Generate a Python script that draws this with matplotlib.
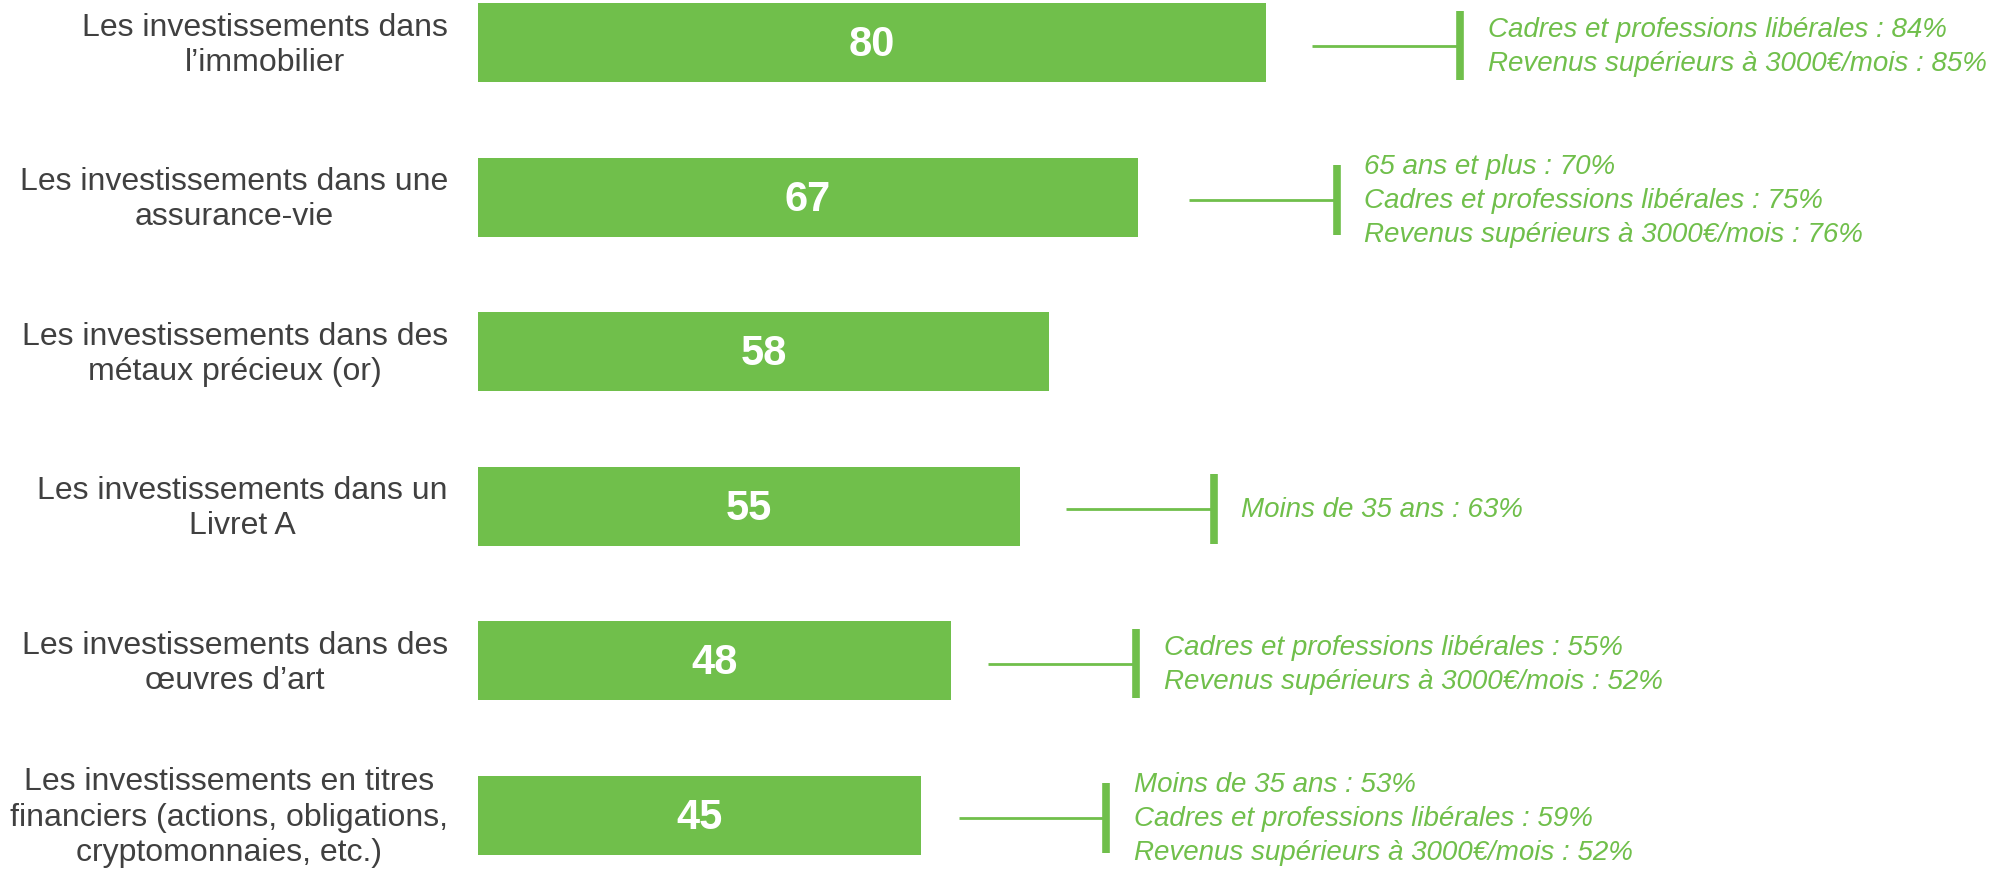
import matplotlib
matplotlib.use("Agg")
import matplotlib.pyplot as plt

categories = [
    "Les investissements dans\nl\u2019immobilier",
    "Les investissements dans une\nassurance-vie",
    "Les investissements dans des\nm\u00e9taux pr\u00e9cieux (or)",
    "Les investissements dans un\nLivret A",
    "Les investissements dans des\n\u0153uvres d\u2019art",
    "Les investissements en titres\nfinanciers (actions, obligations,\ncryptomonnaies, etc.)",
]
values = [80, 67, 58, 55, 48, 45]
details = [
    ["Cadres et professions lib\u00e9rales : 84%", "Revenus sup\u00e9rieurs \u00e0 3000\u20ac/mois : 85%"],
    ["65 ans et plus : 70%", "Cadres et professions lib\u00e9rales : 75%", "Revenus sup\u00e9rieurs \u00e0 3000\u20ac/mois : 76%"],
    [],
    ["Moins de 35 ans : 63%"],
    ["Cadres et professions lib\u00e9rales : 55%", "Revenus sup\u00e9rieurs \u00e0 3000\u20ac/mois : 52%"],
    ["Moins de 35 ans : 53%", "Cadres et professions lib\u00e9rales : 59%", "Revenus sup\u00e9rieurs \u00e0 3000\u20ac/mois : 52%"],
]

# layout: gap (in value units) between bar end and connector line
connector_gap = [4.7, 5.2, 4.5, 4.7, 3.8, 3.8]

GREEN = "#70BF4B"
GREY = "#404040"
W, H = 1998, 870
PXU = 9.85          # pixels per unit
X0 = 478            # pixel of value 0
PITCH = 154.5
C0 = 43.5

fig = plt.figure(figsize=(W / 100, H / 100), dpi=100)
ax = fig.add_axes([0, 0, 1, 1])
ax.set_xlim(-X0 / PXU, (W - X0) / PXU)
ax.set_ylim((H - C0) / PITCH, -C0 / PITCH)
ax.axis("off")

ys = list(range(len(values)))
ax.barh(ys, values, height=79 / PITCH, color=GREEN, edgecolor="none")

for y, v, cat, det, gap in zip(ys, values, categories, details, connector_gap):
    ax.text(-30 / PXU, y + 0.01, cat, ha="right", va="center", multialignment="center",
            fontsize=23, color=GREY, family="Liberation Sans", linespacing=1.22)
    ax.text(v / 2, y + 0.01, str(v), ha="center", va="center", fontsize=30,
            fontweight="bold", color="white", family="Liberation Sans")
    if det:
        yc = y + 0.02
        x1 = v + gap
        x2 = x1 + 15
        ax.plot([x1, x2], [yc, yc], color=GREEN, lw=2, solid_capstyle="butt")
        ax.plot([x2, x2], [yc - 0.225, yc + 0.225], color=GREEN, lw=5.5,
                solid_capstyle="butt")
        ax.text(x2 + 2.8, yc, "\n".join(det), ha="left", va="center",
                fontsize=20, style="italic", color=GREEN,
                family="Liberation Sans", linespacing=1.4)

fig.savefig("out.png", dpi=100)
